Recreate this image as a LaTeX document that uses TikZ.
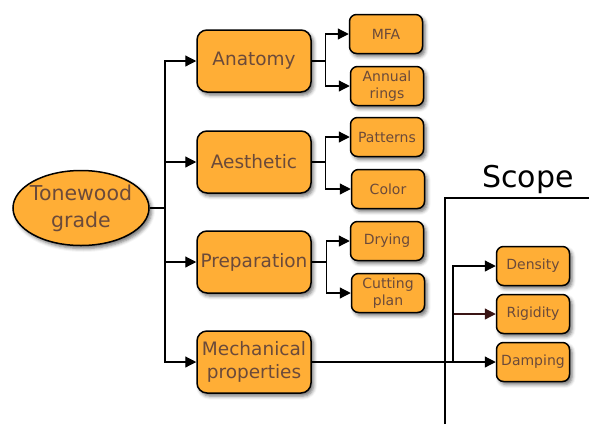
\documentclass[tikz,border=0pt]{standalone}
\usepackage{fontspec}
\setmainfont{DejaVu Sans}
\usetikzlibrary{shapes.geometric,arrows.meta,shadows.blur}
\definecolor{boxfill}{HTML}{FFAE36}
\definecolor{txt}{HTML}{6B4A3A}
\definecolor{rigcol}{HTML}{3A1515}
\tikzset{
  shd/.style={blur shadow={shadow xshift=2.5pt,shadow yshift=-3pt,shadow blur radius=3.5pt,shadow opacity=55}},
  mainbox/.style={draw=black,line width=1.5pt,fill=boxfill,rounded corners=10pt,minimum width=114pt,minimum height=62pt,inner sep=0pt,align=center,text=txt,font=\fontsize{18.5}{23}\selectfont,shd},
  smallbox/.style={draw=black,line width=1.5pt,fill=boxfill,rounded corners=7pt,minimum width=73pt,minimum height=39pt,inner sep=0pt,align=center,text=txt,font=\fontsize{14}{17}\selectfont,shd},
  rootnode/.style={ellipse,draw=black,line width=1.5pt,fill=boxfill,minimum width=136pt,minimum height=75pt,inner xsep=-12pt,inner ysep=0pt,align=center,text=txt,font=\fontsize{20.5}{27}\selectfont,shd},
  arr/.style={draw=black,line width=1.2pt,-{Triangle[length=11pt,width=11pt]}},
}
\begin{document}
\begin{tikzpicture}[x=1pt,y=-1pt]
\useasboundingbox (0,0) rectangle (589,424);
% scope frame
\draw[line width=2.8pt] (445,424) -- (445,198) -- (589,198);
\node[font=\fontsize{30}{30}\selectfont,anchor=base] (scope) at (528,187) {Scope};
% nodes
\node[rootnode] (tg) at (81,208) {Tonewood\\grade};
\node[mainbox] (ana) at (254,61) {Anatomy};
\node[mainbox] (aes) at (254,162) {Aesthetic};
\node[mainbox] (pre) at (254,262) {Preparation};
\node[mainbox] (mech) at (254,362) {Mechanical\\properties};
\node[smallbox] (mfa) at (386,34) {MFA};
\node[smallbox] (ar) at (387,86) {Annual\\rings};
\node[smallbox] (pat) at (387,137) {Patterns};
\node[smallbox] (col) at (388,189) {Color};
\node[smallbox] (dry) at (387,241) {Drying};
\node[smallbox] (cut) at (388,293) {Cutting\\plan};
\node[smallbox] (den) at (533,266) {Density};
\node[smallbox] (rig) at (533,314) {Rigidity};
\node[smallbox] (dam) at (533,362) {Damping};
% connectors
\coordinate (j) at (165,208);
\coordinate (jm) at (453,362);
\draw[line width=1.2pt] (tg.east) -- (j);
\draw[arr] (j) |- (ana.west);
\draw[arr] (j) |- (aes.west);
\draw[arr] (j) |- (pre.west);
\draw[arr] (j) |- (mech.west);
\draw[arr] (ana.east) -- ++(14,0) |- (mfa.west);
\draw[arr] (ana.east) -- ++(14,0) |- (ar.west);
\draw[arr] (aes.east) -- ++(14,0) |- (pat.west);
\draw[arr] (aes.east) -- ++(14,0) |- (col.west);
\draw[arr] (pre.east) -- ++(15,0) |- (dry.west);
\draw[arr] (pre.east) -- ++(15,0) |- (cut.west);
\draw[arr,draw=rigcol] (jm) |- (rig.west);
\draw[arr] (mech.east) -- (dam.west);
\draw[arr] (jm) |- (den.west);
\end{tikzpicture}
\end{document}
